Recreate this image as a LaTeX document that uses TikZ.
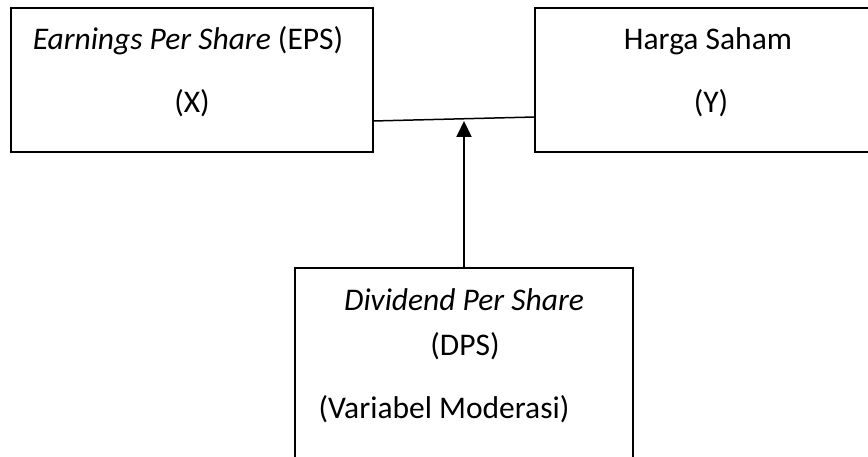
\documentclass[tikz,border=0pt]{standalone}
\usepackage{fontspec}
\setmainfont{Carlito}
\usetikzlibrary{arrows.meta}
\begin{document}
\begin{tikzpicture}[x=1pt,y=-1pt,
  box/.style={draw=black,line width=1.3pt,minimum width=#1,inner sep=0pt},
  lbl/.style={anchor=base,inner sep=0pt,font=\fontsize{31.5}{38}\selectfont}]
\useasboundingbox (0,0) rectangle (868,457);
\clip (0,0) rectangle (868,457);
\node[box=362pt,minimum height=144pt] (L) at (192,80) {};
\node[box=370pt,minimum height=144pt] (R) at (720,80) {};
\node[box=338pt,minimum height=220pt] (B) at (464,378) {};
\node[lbl] (t1) at (188,50) {\textit{Earnings Per Share} (EPS)};
\node[lbl] (t2) at (192,113) {(X)};
\node[lbl] (t3) at (708,50) {Harga Saham};
\node[lbl] (t4) at (711,113) {(Y)};
\node[lbl] (t5) at (464,310) {\textit{Dividend Per Share}};
\node[lbl] (t6) at (465,355) {(DPS)};
\node[lbl] (t7) at (444,418) {(Variabel Moderasi)};
\coordinate (la) at (373,121);
\coordinate (ra) at (535,117);
\coordinate (tip) at (464,121);
\draw[line width=1.5pt] (la) -- (ra);
\draw[line width=2pt,-{Triangle[length=16pt,width=15pt]}] (B.north) -- (tip);
\end{tikzpicture}
\end{document}
